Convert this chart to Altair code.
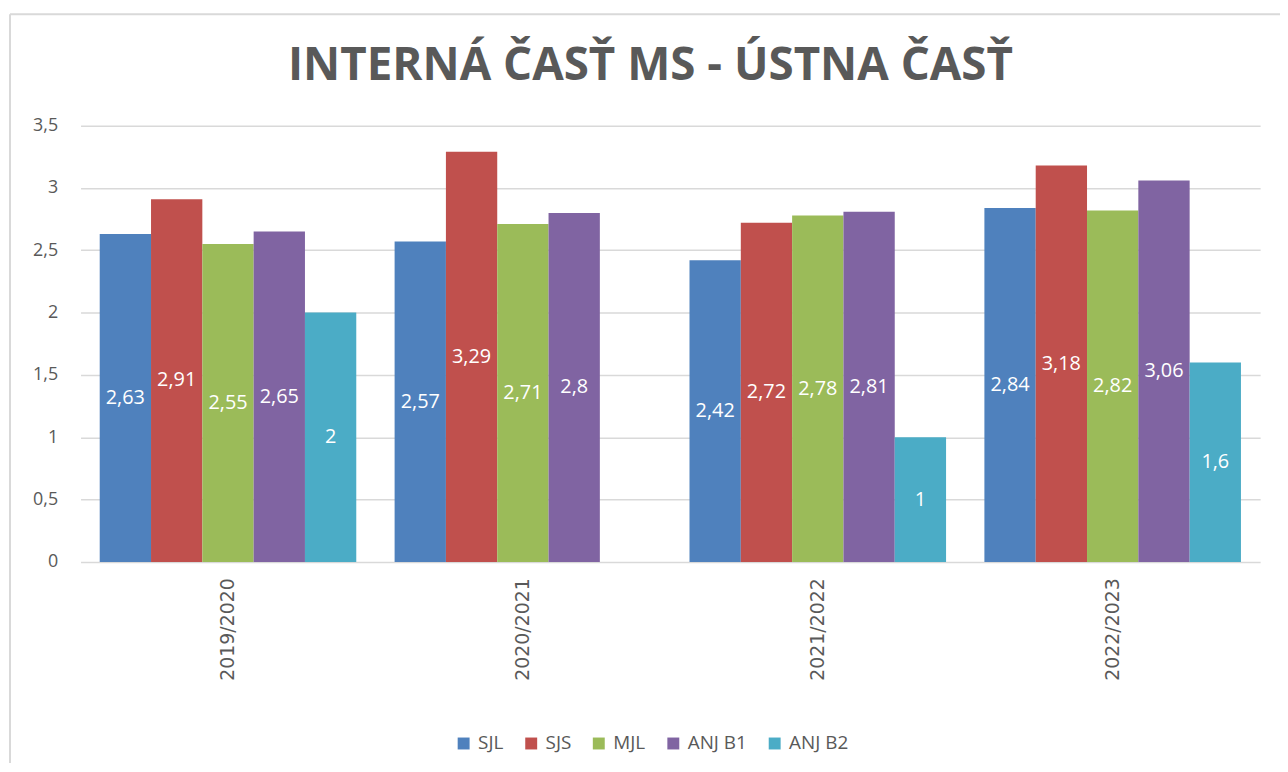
import altair as alt
import pandas as pd

years = ["2019/2020", "2020/2021", "2021/2022", "2022/2023"]
series = ["SJL", "SJS", "MJL", "ANJ B1", "ANJ B2"]
colors = ["#4F81BD", "#C0504D", "#9BBB59", "#8064A2", "#4BACC6"]

sjl = [2.63, 2.57, 2.42, 2.84]
sjs = [2.91, 3.29, 2.72, 3.18]
mjl = [2.55, 2.71, 2.78, 2.82]
anj_b1 = [2.65, 2.80, 2.81, 3.06]
anj_b2 = [2.0, None, 1.0, 1.6]

rows = []
for s, vals in zip(series, [sjl, sjs, mjl, anj_b1, anj_b2]):
    for y, v in zip(years, vals):
        if v is None:
            continue
        lbl = ("%g" % v).replace(".", ",")
        rows.append({"year": y, "series": s, "value": v, "mid": v / 2, "label": lbl})
df = pd.DataFrame(rows)

W, H = 1187, 439
FONT = "Open Sans"
GRAY = "#595959"

xenc = alt.X("year:N", sort=years, title=None,
             scale=alt.Scale(paddingInner=0.13, paddingOuter=0.065),
             axis=alt.Axis(labelAngle=-90, labelFontSize=19, labelColor=GRAY, labelFont="DejaVu Sans",
                           labelPadding=16, domain=False, ticks=False))
xoff = alt.XOffset("series:N", sort=series, scale=alt.Scale(domain=series, paddingInner=0, paddingOuter=0))
yscale = alt.Scale(domain=[0, 3.5], nice=False)

bars = alt.Chart(df).mark_bar().encode(
    x=xenc,
    xOffset=xoff,
    y=alt.Y("value:Q", scale=yscale, title=None,
            axis=alt.Axis(values=[0, 0.5, 1, 1.5, 2, 2.5, 3, 3.5],
                          labelExpr="replace(toString(datum.value), '.', ',')",
                          labelFontSize=18, labelColor=GRAY, labelFont=FONT,
                          labelPadding=23, domain=False, ticks=False,
                          gridColor="#d9d9d9", gridWidth=1.5)),
    color=alt.Color("series:N", sort=series,
                    scale=alt.Scale(domain=series, range=colors),
                    legend=alt.Legend(title=None, orient="none", direction="horizontal",
                                      legendX=376, legendY=612,
                                      symbolType="square", symbolSize=144,
                                      symbolStrokeWidth=0, labelFontSize=19,
                                      labelColor=GRAY, labelFont=FONT,
                                      columnPadding=18, labelOffset=5)),
)

labels = alt.Chart(df).mark_text(color="white", fontSize=20, font=FONT, baseline="middle").encode(
    x=alt.X("year:N", sort=years),
    xOffset=xoff,
    y=alt.Y("mid:Q", scale=yscale),
    text="label:N",
)

border_left = alt.Chart(pd.DataFrame({"a": [0]})).mark_rule(color="#d9d9d9", strokeWidth=2).encode(
    x=alt.value(-71), y=alt.value(-112), y2=alt.value(H + 220))
border_top = alt.Chart(pd.DataFrame({"a": [0]})).mark_rule(color="#d9d9d9", strokeWidth=2).encode(
    x=alt.value(-71), x2=alt.value(W + 40), y=alt.value(-112))

chart = alt.layer(bars, labels, border_left, border_top).properties(
    width=W, height=H,
    autosize=alt.AutoSizeParams(type="none"),
    padding={"left": 73, "top": 116, "right": 20, "bottom": 200},
    title=alt.TitleParams("INTERNÁ ČASŤ MS - ÚSTNA ČASŤ", fontSize=46, font=FONT,
                          fontWeight="bold", color=GRAY, anchor="middle", frame="group",
                          baseline="alphabetic", offset=-113, dx=-20),
).configure_view(stroke=None)

chart.save("out.html", embed_options={"renderer": "svg", "actions": False})
